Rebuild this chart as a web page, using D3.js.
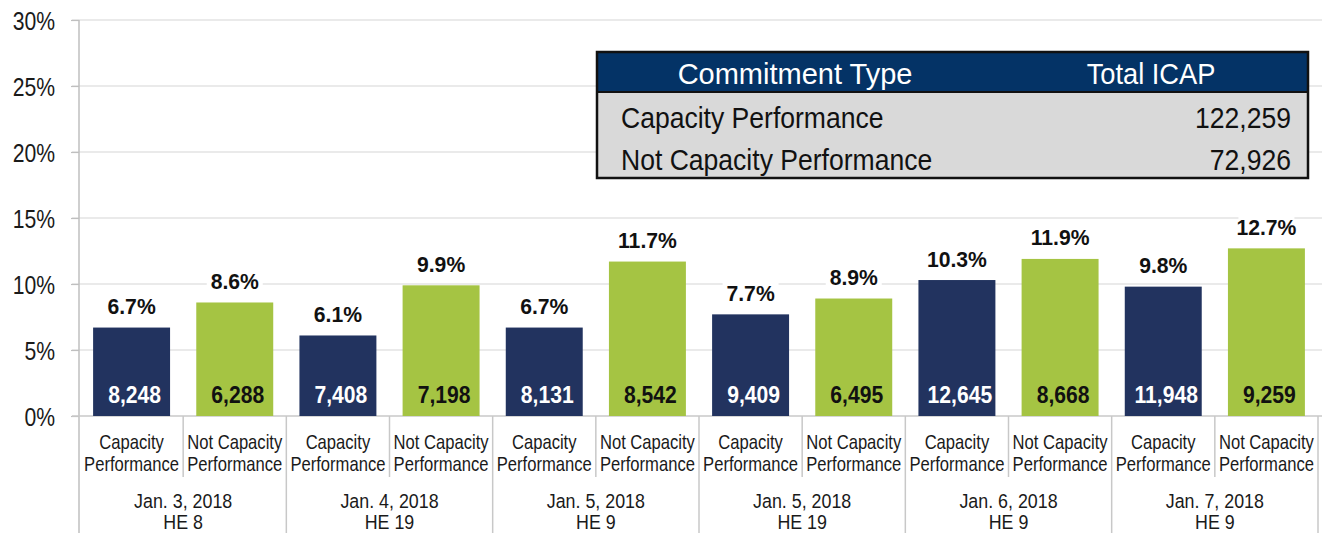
<!DOCTYPE html>
<html>
<head>
<meta charset="utf-8">
<script src="https://cdn.jsdelivr.net/npm/d3@7"></script>
<style>
  html, body { margin: 0; padding: 0; background: #fff; }
  svg { display: block; }
</style>
</head>
<body>
<svg id="chart" width="1325" height="533"></svg>
<script>
// ---------------- DATA ----------------
const groupDates = ["Jan. 3, 2018", "Jan. 4, 2018", "Jan. 5, 2018", "Jan. 5, 2018", "Jan. 6, 2018", "Jan. 7, 2018"];
const groupHours = ["HE 8", "HE 19", "HE 9", "HE 19", "HE 9", "HE 9"];
const seriesNames = ["Capacity Performance", "Not Capacity Performance"];
const seriesLabelLines = [["Capacity", "Performance"], ["Not Capacity", "Performance"]];
const cpPct = [6.7, 6.1, 6.7, 7.7, 10.3, 9.8];
const ncpPct = [8.6, 9.9, 11.7, 8.9, 11.9, 12.7];
const cpMW = [8248, 7408, 8131, 9409, 12645, 11948];
const ncpMW = [6288, 7198, 8542, 6495, 8668, 9259];
const yTicks = [0, 5, 10, 15, 20, 25, 30];
const tableHeader = ["Commitment Type", "Total ICAP"];
const tableTypes = ["Capacity Performance", "Not Capacity Performance"];
const tableICAP = [122259, 72926];

// ---------------- BUILD ----------------
const FONT = "'Liberation Sans', Arial, sans-serif";
const colors = ["#22335f", "#a5c443"];

const rows = [];
groupDates.forEach((d, g) => {
  rows.push({ g, s: 0, pct: cpPct[g], mw: cpMW[g] });
  rows.push({ g, s: 1, pct: ncpPct[g], mw: ncpMW[g] });
});
rows.forEach((r, i) => r.key = "k" + i);

const svg = d3.select("#chart");
const pLeft = 80, pRight = 1318, pTop = 20, pBottom = 416;

const x = d3.scaleBand().domain(rows.map(r => r.key)).range([pLeft, pRight]).paddingInner(0.254).paddingOuter(0.127);
const y = d3.scaleLinear().domain([0, 30]).range([pBottom, pTop]);
const slot = x.step();
const halfGap = x.step() * x.paddingInner() / 2;

// text helper with horizontal condensing
function txt(parent, tx, ty, str, o) {
  return parent.append("text")
    .attr("transform", `translate(${tx},${ty}) scale(${o.sx || 1},1)`)
    .attr("text-anchor", o.anchor || "middle")
    .attr("font-family", FONT)
    .attr("font-size", o.size)
    .attr("font-weight", o.weight || "normal")
    .attr("fill", o.fill || "#1a1a1a")
    .text(str);
}

// gridlines
svg.append("g").selectAll("line").data(yTicks.filter(t => t > 0)).join("line")
  .attr("x1", pLeft - 8).attr("x2", pRight + 4)
  .attr("y1", d => y(d)).attr("y2", d => y(d))
  .attr("stroke", "#e3e3e3").attr("stroke-width", 1.5);

// y axis
const yAxis = svg.append("g").attr("transform", `translate(${pLeft - 1},0)`)
  .call(d3.axisLeft(y).tickValues(yTicks).tickFormat(d => d + "%").tickSize(8).tickPadding(16));
yAxis.select(".domain").remove();
yAxis.selectAll(".tick line").attr("stroke", "#bfbfbf").attr("stroke-width", 1.2);
yAxis.selectAll(".tick text")
  .attr("x", 0).attr("dy", null)
  .attr("transform", "translate(-24,9) scale(0.83,1)")
  .attr("font-family", FONT).attr("font-size", 25.5).attr("fill", "#1a1a1a");

// left vertical line down to bottom
svg.append("line").attr("x1", pLeft - 1).attr("x2", pLeft - 1).attr("y1", pTop).attr("y2", 533)
  .attr("stroke", "#bfbfbf").attr("stroke-width", 1.5);

// baseline
svg.append("line").attr("x1", pLeft - 8).attr("x2", pRight + 4).attr("y1", pBottom).attr("y2", pBottom)
  .attr("stroke", "#c8c8c8").attr("stroke-width", 1.5);

// separators
rows.forEach(r => {
  const xr = x(r.key) - halfGap + slot;
  svg.append("line").attr("x1", xr).attr("x2", xr).attr("y1", pBottom).attr("y2", r.s === 0 ? 477 : 533)
    .attr("stroke", "#c8c8c8").attr("stroke-width", 1.5);
});

// bars
svg.append("g").selectAll("rect").data(rows).join("rect")
  .attr("x", d => x(d.key)).attr("width", x.bandwidth())
  .attr("y", d => y(d.pct)).attr("height", d => y(0) - y(d.pct))
  .attr("fill", d => colors[d.s]);

// percent labels with white background
const pctG = svg.append("g");
rows.forEach(d => {
  const cx = x(d.key) + x.bandwidth() / 2;
  const by = y(d.pct) - 13.5;
  pctG.append("rect").attr("x", cx - 28).attr("y", by - 19).attr("width", 56).attr("height", 23).attr("fill", "#fff");
  txt(pctG, cx, by, d.pct.toFixed(1) + "%", { size: 22.5, weight: "bold", sx: 0.94, fill: "#111" });
});

// MW labels inside bars
const mwG = svg.append("g");
rows.forEach(d => {
  txt(mwG, x(d.key) + x.bandwidth() / 2 + 3, pBottom - 13, d3.format(",")(d.mw),
    { size: 23, weight: "bold", sx: 0.92, fill: d.s === 0 ? "#fff" : "#111" });
});

// category labels
const catG = svg.append("g");
rows.forEach(d => {
  const cx = x(d.key) + x.bandwidth() / 2;
  seriesLabelLines[d.s].forEach((ln, j) => {
    txt(catG, cx, 449 + j * 22, ln, { size: 20.5, sx: 0.81 });
  });
});
// group labels
groupDates.forEach((dt, g) => {
  const cx = x(rows[g * 2].key) + slot - halfGap;
  txt(svg, cx, 508, dt, { size: 20.5, sx: 0.87 });
  txt(svg, cx, 529, groupHours[g], { size: 20.5, sx: 0.87 });
});

// table
const tX = 597, tY = 52, tW = 711, hh = 40, rh = 43;
const tg = svg.append("g");
tg.append("rect").attr("x", tX).attr("y", tY).attr("width", tW).attr("height", hh + 2 * rh).attr("fill", "#d9d9d9");
tg.append("rect").attr("x", tX).attr("y", tY).attr("width", tW).attr("height", hh).attr("fill", "#043366");
tg.append("rect").attr("x", tX).attr("y", tY).attr("width", tW).attr("height", hh + 2 * rh)
  .attr("fill", "none").attr("stroke", "#111").attr("stroke-width", 2.5);
tg.append("line").attr("x1", tX).attr("x2", tX + tW).attr("y1", tY + hh).attr("y2", tY + hh)
  .attr("stroke", "#111").attr("stroke-width", 2);
txt(tg, 795, tY + 32, tableHeader[0], { size: 29, fill: "#fff" });
txt(tg, 1151, tY + 32, tableHeader[1], { size: 29, sx: 0.94, fill: "#fff" });
tableTypes.forEach((t, i) => {
  const by = tY + hh + 36 + i * 41.5;
  txt(tg, 621, by, t, { size: 29.5, sx: 0.9, anchor: "start", fill: "#111" });
  txt(tg, 1291, by, d3.format(",")(tableICAP[i]), { size: 29.5, sx: 0.9, anchor: "end", fill: "#111" });
});
</script>
</body>
</html>
